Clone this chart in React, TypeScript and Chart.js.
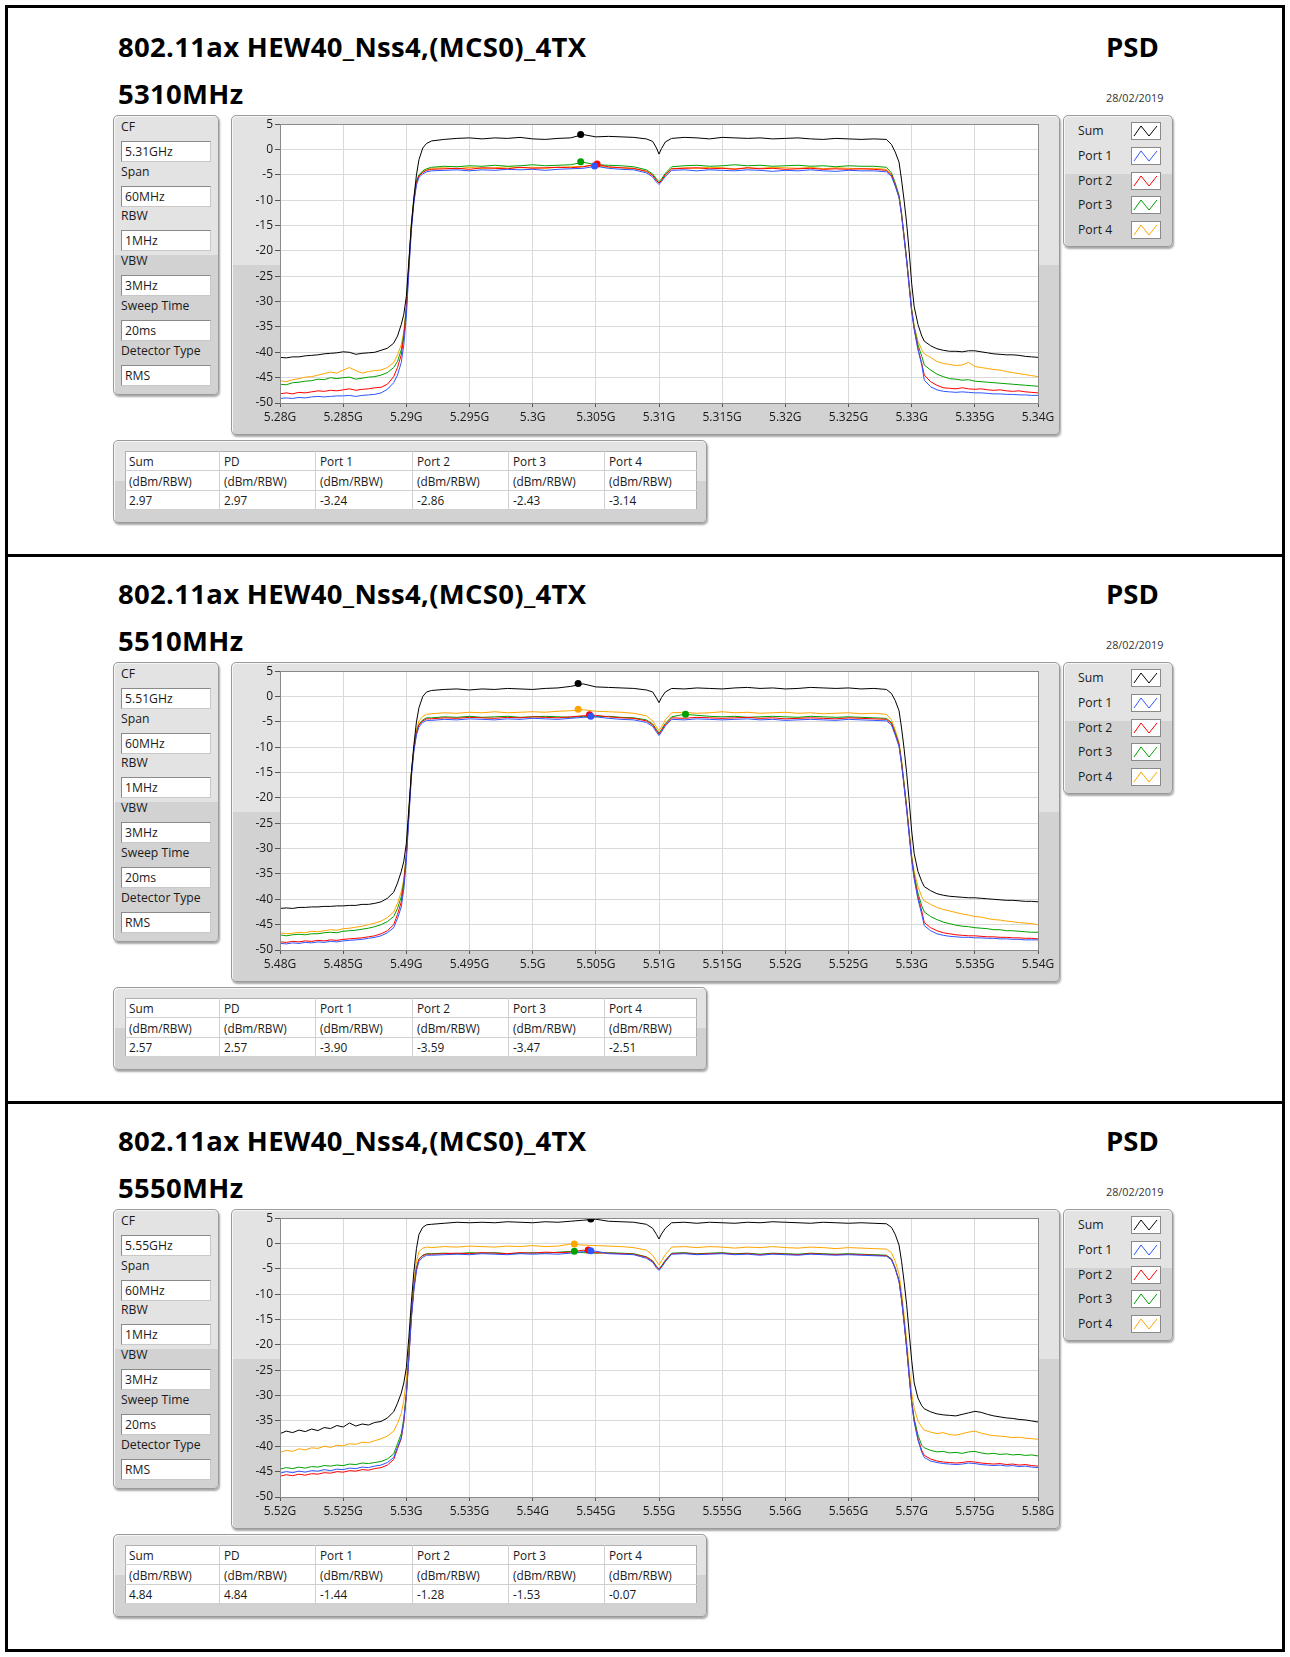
import React, { useEffect, useRef } from "react";
import { Chart, registerables } from "chart.js";
Chart.register(...registerables);

// ---------------- DATA ----------------
// frequency offsets (MHz) from the start of each 60 MHz span
const FREQ_OFFSETS = [
  0, 0.5, 1, 1.5, 2, 2.5, 3, 3.5, 4, 4.5, 5, 5.5, 6, 6.5, 7, 7.5, 8, 8.5, 9,
  9.3, 9.6, 9.8, 10, 10.2, 10.4, 10.6, 10.8, 11, 11.3, 11.6,
  12, 13, 14, 15, 16, 17, 18, 19, 20, 21, 22, 23, 24, 25, 26, 27, 28, 29,
  29.5, 29.8, 30, 30.2, 30.5,
  31, 32, 33, 34, 35, 36, 37, 38, 39, 40, 41, 42, 43, 44, 45, 46, 47, 48,
  48.4, 48.7, 49, 49.2, 49.4, 49.6, 49.8, 50, 50.2, 50.5, 50.8,
  51, 51.5, 52, 52.5, 53, 53.5, 54, 54.5, 55, 55.5, 56, 56.5, 57, 57.5, 58, 58.5, 59, 59.5, 60,
];

const SERIES_NAMES = ["Sum", "Port 1", "Port 2", "Port 3", "Port 4"];
const SERIES_COLORS = ["#000000", "#2f55ff", "#ff0000", "#00a000", "#ffa500"];
const TABLE_HEADERS = ["Sum", "PD", "Port 1", "Port 2", "Port 3", "Port 4"];
const TABLE_UNITS = ["(dBm/RBW)", "(dBm/RBW)", "(dBm/RBW)", "(dBm/RBW)", "(dBm/RBW)", "(dBm/RBW)"];
const Y_MIN = -50;
const Y_MAX = 5;

// ---- Chart 1 : 5310 MHz ----
const C1_SUM = [
  -41.0, -41.1, -40.9, -40.9, -40.7, -40.6, -40.5, -40.3, -40.2, -40.1, -39.9, -40.0, -40.4, -40.2, -40.1, -40.0, -39.6, -39.2, -38.2,
  -36.8, -34.5, -32.5, -29.0, -22.0, -15.0, -9.5, -5.0, -2.0, 0.3, 1.2,
  1.7, 2.0, 2.2, 2.3, 2.1, 2.3, 2.2, 2.4, 2.1, 2.0, 2.2, 2.3, 2.95, 2.5, 2.6, 2.5, 2.4, 2.1,
  1.6, 0.3, -0.9, 0.2, 1.5,
  2.2, 2.4, 2.3, 2.1, 2.4, 2.3, 2.2, 2.3, 2.1, 2.2, 2.3, 2.1, 2.0, 2.2, 2.1, 2.0, 2.1, 2.0,
  1.0, -0.5, -2.5, -6.0, -10.0, -14.5, -20.0, -26.4, -31.0, -34.5, -36.8,
  -37.8, -38.7, -39.3, -39.6, -39.8, -39.8, -39.9, -39.7, -39.7, -39.9, -40.1, -40.3, -40.4, -40.5, -40.5, -40.6, -40.8, -40.9, -41.0,
];
const C1_P1 = [
  -49.1, -49.0, -49.1, -48.9, -49.0, -48.8, -48.7, -48.8, -48.7, -48.6, -48.6, -48.5, -48.7, -48.5, -48.4, -48.3, -48.0, -47.3, -46.0,
  -44.5, -42.0, -38.5, -33.0, -24.0, -16.0, -10.5, -7.0, -5.5, -4.8, -4.4,
  -4.2, -4.1, -4.0, -4.2, -4.0, -4.1, -3.9, -4.0, -3.9, -4.1, -3.9, -3.8, -3.7, -3.3, -3.7, -3.9, -4.0, -4.6,
  -5.4, -6.4, -6.9, -6.3, -5.3,
  -4.1, -4.0, -4.2, -4.0, -4.1, -4.2, -4.0, -4.1, -4.3, -4.1, -4.2, -4.0, -4.2, -4.3, -4.1, -4.2, -4.2, -4.4,
  -5.3, -7.2, -9.5, -13.0, -17.5, -22.0, -27.0, -32.0, -35.5, -39.5, -42.5,
  -45.5, -46.8, -47.4, -47.7, -47.8, -47.9, -47.8, -47.9, -48.0, -48.0, -48.1, -48.2, -48.2, -48.3, -48.3, -48.4, -48.4, -48.5, -48.5,
];
const C1_P2 = [
  -48.2, -48.0, -48.2, -47.9, -48.0, -47.8, -47.6, -47.7, -47.5, -47.6, -47.4, -47.2, -47.5, -47.3, -47.2, -47.0, -46.9, -46.3, -44.8,
  -43.0, -40.5, -37.0, -31.5, -23.0, -15.0, -10.0, -6.5, -5.2, -4.5, -4.1,
  -3.9, -3.8, -3.7, -3.9, -3.6, -3.7, -3.8, -3.5, -3.7, -3.6, -3.5, -3.6, -3.4, -2.9, -3.4, -3.6, -3.7, -4.3,
  -5.1, -6.1, -6.6, -6.1, -5.0,
  -3.8, -3.7, -3.6, -3.8, -3.7, -3.9, -3.6, -3.8, -3.7, -3.9, -3.8, -3.7, -3.9, -3.8, -3.9, -3.8, -3.9, -4.1,
  -5.0, -7.0, -9.3, -12.8, -17.2, -21.8, -26.8, -31.8, -35.3, -39.3, -42.2,
  -44.5, -45.8, -46.5, -47.0, -47.1, -47.2, -47.0, -47.2, -47.3, -47.2, -47.4, -47.5, -47.4, -47.6, -47.7, -47.6, -47.8, -47.9, -48.0,
];
const C1_P3 = [
  -46.3, -46.4, -46.0, -45.9, -45.7, -45.6, -45.3, -45.4, -45.0, -45.2, -45.0, -44.9, -45.3, -45.1, -44.9, -44.8, -44.5, -44.0, -43.0,
  -41.8, -39.5, -36.5, -31.0, -22.5, -14.5, -9.5, -6.2, -5.0, -4.2, -3.8,
  -3.5, -3.3, -3.4, -3.2, -3.3, -3.1, -3.3, -3.2, -3.0, -3.2, -3.1, -3.0, -2.5, -3.0, -3.1, -3.2, -3.4, -4.0,
  -4.8, -5.8, -6.3, -5.8, -4.7,
  -3.4, -3.2, -3.1, -3.3, -3.2, -3.0, -3.2, -3.1, -3.3, -3.2, -3.1, -3.3, -3.2, -3.4, -3.2, -3.3, -3.3, -3.5,
  -4.6, -6.6, -9.0, -12.5, -17.0, -21.5, -26.5, -31.5, -35.0, -38.5, -40.8,
  -42.5, -43.5, -44.3, -44.8, -45.2, -45.3, -45.5, -45.4, -45.7, -45.8, -45.9, -46.0, -46.1, -46.2, -46.3, -46.4, -46.5, -46.6, -46.7,
];
const C1_P4 = [
  -45.6, -45.8, -45.4, -45.2, -44.9, -44.8, -44.5, -44.2, -43.9, -44.1, -43.5, -43.0, -43.6, -44.1, -43.8, -43.6, -43.5, -43.0, -42.0,
  -40.5, -38.5, -36.0, -31.0, -23.0, -15.0, -10.0, -6.5, -5.2, -4.4, -4.0,
  -3.7, -3.6, -3.8, -3.5, -3.7, -3.6, -3.4, -3.6, -3.5, -3.7, -3.5, -3.4, -3.3, -3.2, -3.5, -3.6, -3.8, -4.3,
  -5.0, -6.0, -6.5, -6.0, -4.9,
  -3.8, -3.6, -3.7, -3.5, -3.6, -3.8, -3.6, -3.7, -3.5, -3.6, -3.7, -3.5, -3.8, -3.6, -3.7, -3.8, -3.7, -3.9,
  -5.0, -7.0, -9.3, -12.7, -17.2, -21.8, -26.8, -31.5, -34.8, -37.8, -39.5,
  -40.3, -41.0, -41.8, -42.2, -42.4, -42.6, -42.5, -42.0, -42.8, -43.0, -43.2, -43.4, -43.5, -43.8, -44.0, -44.2, -44.4, -44.6, -44.8,
];
const C1_MARK_X = [23.8, 24.9, 25.1, 23.8, 24.9];
const C1_MARK_Y = [2.97, -3.24, -2.86, -2.43, -3.14];
const C1_TABLE = ["2.97", "2.97", "-3.24", "-2.86", "-2.43", "-3.14"];

// ---- Chart 2 : 5510 MHz ----
const C2_SUM = [
  -41.8, -41.7, -41.8, -41.6, -41.6, -41.5, -41.5, -41.4, -41.4, -41.3, -41.3, -41.2, -41.2, -41.0, -41.0, -40.8, -40.5, -39.8, -38.6,
  -36.8, -34.5, -32.5, -29.0, -22.0, -15.0, -9.5, -5.0, -2.2, 0.0, 0.9,
  1.2, 1.4, 1.5, 1.3, 1.5, 1.4, 1.6, 1.5, 1.4, 1.6, 1.7, 2.0, 2.5, 1.9, 1.8, 1.7, 1.6, 1.3,
  0.9, -0.3, -1.2, -0.2, 0.9,
  1.6, 1.5, 1.7, 1.6, 1.5, 1.7, 1.8, 1.6, 1.7, 1.5, 1.6, 1.8, 1.7, 1.6, 1.7, 1.5, 1.6, 1.4,
  0.6, -0.8, -2.8, -6.2, -10.3, -15.0, -20.5, -26.5, -31.0, -34.5, -36.5,
  -37.5, -38.3, -38.9, -39.2, -39.4, -39.5, -39.6, -39.7, -39.7, -39.8, -39.9, -40.0, -40.1, -40.2, -40.2, -40.3, -40.4, -40.4, -40.5,
];
const C2_P1 = [
  -48.7, -48.8, -48.6, -48.7, -48.5, -48.6, -48.4, -48.5, -48.3, -48.4, -48.2, -48.1, -48.0, -47.9, -47.7, -47.5, -47.2, -46.6, -45.6,
  -43.8, -41.5, -38.0, -32.5, -24.0, -16.0, -10.8, -7.6, -6.0, -5.1, -4.7,
  -4.7, -4.5, -4.6, -4.4, -4.5, -4.6, -4.4, -4.5, -4.3, -4.4, -4.5, -4.3, -4.1, -4.0, -4.3, -4.5, -4.6, -5.1,
  -5.9, -7.0, -7.7, -7.0, -5.8,
  -4.5, -4.6, -4.4, -4.5, -4.6, -4.5, -4.4, -4.6, -4.5, -4.7, -4.6, -4.5, -4.6, -4.7, -4.5, -4.6, -4.7, -4.8,
  -5.6, -7.6, -9.9, -13.4, -17.8, -22.3, -27.3, -32.3, -36.0, -40.0, -43.0,
  -45.2, -46.2, -46.8, -47.1, -47.3, -47.4, -47.5, -47.5, -47.6, -47.6, -47.7, -47.7, -47.8, -47.8, -47.9, -47.9, -48.0, -48.0, -48.0,
];
const C2_P2 = [
  -48.4, -48.5, -48.3, -48.4, -48.2, -48.3, -48.1, -48.2, -48.0, -48.1, -47.9, -47.8, -47.7, -47.6, -47.4, -47.2, -46.8, -46.2, -45.0,
  -43.0, -40.5, -37.0, -31.5, -23.2, -15.3, -10.3, -7.2, -5.6, -4.8, -4.4,
  -4.4, -4.2, -4.3, -4.1, -4.2, -4.3, -4.1, -4.2, -4.0, -4.1, -4.2, -4.0, -3.8, -3.7, -4.0, -4.2, -4.3, -4.8,
  -5.6, -6.7, -7.4, -6.7, -5.5,
  -4.2, -4.3, -4.1, -4.2, -4.3, -4.2, -4.1, -4.3, -4.2, -4.4, -4.3, -4.2, -4.3, -4.4, -4.2, -4.3, -4.4, -4.5,
  -5.3, -7.3, -9.6, -13.1, -17.5, -22.0, -27.0, -32.0, -35.6, -39.5, -42.3,
  -44.6, -45.6, -46.2, -46.6, -46.8, -47.0, -47.1, -47.2, -47.2, -47.3, -47.4, -47.4, -47.5, -47.5, -47.6, -47.6, -47.7, -47.7, -47.8,
];
const C2_P3 = [
  -47.0, -47.2, -47.0, -46.9, -47.0, -46.8, -46.8, -46.6, -46.5, -46.6, -46.3, -46.2, -46.1, -45.9, -45.7, -45.4, -45.0, -44.4, -43.4,
  -41.8, -39.5, -36.5, -31.2, -23.0, -15.0, -10.2, -7.0, -5.5, -4.6, -4.2,
  -4.2, -4.0, -4.1, -3.9, -4.1, -4.0, -3.9, -4.1, -4.0, -3.9, -4.0, -4.1, -3.9, -4.0, -3.9, -4.1, -4.2, -4.6,
  -5.4, -6.5, -7.2, -6.5, -5.3,
  -4.0, -3.5, -3.7, -3.9, -4.0, -3.9, -4.1, -4.0, -3.9, -4.0, -4.1, -3.9, -4.0, -4.1, -4.0, -4.1, -4.2, -4.3,
  -5.1, -7.1, -9.4, -12.9, -17.3, -21.8, -26.8, -31.7, -35.2, -38.8, -41.3,
  -42.5, -43.4, -44.0, -44.5, -44.8, -45.1, -45.3, -45.4, -45.6, -45.7, -45.8, -46.0, -46.0, -46.2, -46.2, -46.3, -46.4, -46.5, -46.5,
];
const C2_P4 = [
  -46.6, -46.8, -46.7, -46.5, -46.6, -46.3, -46.4, -46.2, -46.0, -46.1, -45.8, -45.7, -45.5, -45.3, -45.0, -44.7, -44.3, -43.6, -42.5,
  -40.8, -38.5, -36.0, -31.0, -23.0, -15.0, -10.0, -6.5, -4.8, -3.9, -3.5,
  -3.4, -3.2, -3.3, -3.1, -3.2, -3.0, -3.2, -3.1, -3.0, -3.1, -2.9, -2.8, -2.6, -2.9, -3.0, -3.1, -3.3, -3.8,
  -4.8, -6.0, -6.7, -6.0, -4.6,
  -3.2, -3.1, -3.3, -3.2, -3.0, -3.2, -3.1, -3.3, -3.2, -3.1, -3.3, -3.2, -3.4, -3.3, -3.2, -3.4, -3.3, -3.5,
  -4.6, -6.6, -9.0, -12.5, -17.0, -21.5, -26.5, -31.3, -34.5, -37.5, -39.5,
  -40.3, -41.0, -41.6, -42.0, -42.3, -42.6, -42.9, -43.1, -43.4, -43.5, -43.8, -44.0, -44.1, -44.3, -44.4, -44.6, -44.7, -44.8, -45.0,
];
const C2_MARK_X = [23.6, 24.6, 24.5, 32.1, 23.6];
const C2_MARK_Y = [2.57, -3.9, -3.59, -3.47, -2.51];
const C2_TABLE = ["2.57", "2.57", "-3.90", "-3.59", "-3.47", "-2.51"];

// ---- Chart 3 : 5550 MHz ----
const C3_SUM = [
  -37.5, -37.0, -37.3, -36.8, -37.1, -36.6, -36.9, -36.3, -36.5, -35.9, -36.2, -35.4, -36.0, -35.6, -35.8, -35.3, -35.1, -34.4, -33.2,
  -31.5, -29.5, -27.5, -24.5, -18.5, -11.5, -5.5, -1.0, 1.8, 3.2, 3.7,
  3.8, 4.0, 4.2, 4.1, 4.2, 4.1, 4.3, 4.2, 4.1, 4.3, 4.2, 4.4, 4.6, 4.8, 4.4, 4.3, 4.2, 3.8,
  3.0, 1.8, 0.9, 1.9, 3.0,
  4.1, 4.2, 4.0, 4.2, 4.1, 4.0, 4.2, 4.1, 4.3, 4.2, 4.1, 4.0, 4.2, 4.1, 4.0, 4.1, 4.0, 3.9,
  3.2, 1.8, -0.3, -3.5, -7.5, -12.0, -17.5, -23.0, -27.5, -30.5, -32.0,
  -32.6, -33.2, -33.6, -33.8, -33.9, -34.0, -33.7, -33.4, -33.1, -33.3, -33.7, -34.0, -34.2, -34.4, -34.5, -34.7, -34.8, -35.0, -35.2,
];
const C3_P1 = [
  -45.3, -45.0, -45.2, -44.9, -45.1, -44.8, -44.9, -44.6, -44.8, -44.5, -44.6, -44.3, -44.4, -44.1, -44.2, -43.9, -43.7, -43.2, -42.2,
  -40.2, -38.2, -35.0, -30.0, -22.6, -14.8, -9.2, -5.4, -3.5, -2.7, -2.3,
  -2.3, -2.2, -2.1, -2.2, -2.0, -2.1, -2.2, -2.0, -2.1, -2.0, -2.1, -1.9, -1.6, -1.5, -2.0, -2.1, -2.2, -2.9,
  -3.7, -4.8, -5.3, -4.7, -3.6,
  -2.1, -2.0, -2.2, -2.1, -2.0, -2.2, -2.1, -2.3, -2.1, -2.2, -2.3, -2.1, -2.2, -2.3, -2.2, -2.3, -2.4, -2.5,
  -3.2, -5.0, -7.5, -11.1, -15.6, -20.6, -26.2, -31.5, -35.2, -38.8, -41.2,
  -42.2, -42.9, -43.2, -43.4, -43.5, -43.6, -43.5, -43.3, -43.4, -43.6, -43.7, -43.8, -43.7, -43.9, -43.8, -44.0, -43.9, -44.1, -44.2,
];
const C3_P2 = [
  -45.9, -45.6, -45.8, -45.5, -45.7, -45.4, -45.5, -45.2, -45.3, -45.0, -45.1, -44.8, -44.9, -44.6, -44.7, -44.4, -44.2, -43.7, -42.6,
  -40.5, -38.5, -35.3, -30.0, -22.5, -14.5, -8.8, -5.0, -3.1, -2.4, -2.1,
  -2.1, -2.0, -1.9, -2.0, -1.8, -1.9, -2.0, -1.8, -1.9, -1.7, -1.8, -1.7, -1.3, -1.8, -1.9, -2.0, -2.1, -2.7,
  -3.5, -4.6, -5.1, -4.5, -3.4,
  -2.0, -1.9, -2.1, -2.0, -1.9, -2.1, -2.0, -2.2, -2.0, -2.1, -2.2, -2.0, -2.1, -2.2, -2.1, -2.2, -2.3, -2.4,
  -3.1, -4.9, -7.4, -11.0, -15.5, -20.5, -26.0, -31.3, -35.0, -38.5, -40.8,
  -41.8, -42.5, -42.9, -43.1, -43.2, -43.3, -43.2, -43.0, -43.1, -43.3, -43.4, -43.5, -43.4, -43.6, -43.5, -43.7, -43.6, -43.8, -43.9,
];
const C3_P3 = [
  -44.5, -44.2, -44.4, -44.1, -44.3, -44.0, -44.1, -43.8, -43.9, -43.7, -43.8, -43.5, -43.6, -43.3, -43.4, -43.2, -43.0, -42.5, -41.5,
  -39.5, -37.5, -34.5, -29.5, -22.0, -14.0, -8.5, -4.8, -3.0, -2.3, -2.0,
  -2.0, -1.9, -2.0, -1.8, -1.9, -1.8, -2.0, -1.9, -1.8, -1.9, -1.7, -1.55, -1.8, -1.9, -1.8, -1.9, -2.0, -2.6,
  -3.4, -4.5, -5.0, -4.4, -3.3,
  -1.9, -1.8, -2.0, -1.9, -1.8, -2.0, -1.9, -2.1, -1.9, -2.0, -2.1, -1.9, -2.0, -2.1, -2.0, -2.1, -2.2, -2.3,
  -3.0, -4.8, -7.3, -10.8, -15.3, -20.3, -25.8, -31.0, -34.5, -37.8, -39.8,
  -40.3, -40.8, -41.1, -41.0, -41.3, -41.2, -41.4, -41.1, -41.0, -41.3, -41.5, -41.4, -41.6, -41.5, -41.7, -41.6, -41.8, -41.7, -41.9,
];
const C3_P4 = [
  -41.2, -40.8, -41.0, -40.5, -40.7, -40.3, -40.4, -40.0, -40.2, -39.8, -39.9, -39.5, -39.6, -39.2, -39.3, -38.9, -38.5, -38.0, -37.0,
  -35.5, -33.5, -31.0, -27.0, -20.5, -13.0, -7.5, -3.5, -1.6, -0.9, -0.7,
  -0.8, -0.6, -0.7, -0.5, -0.6, -0.7, -0.5, -0.6, -0.4, -0.6, -0.5, -0.1, -0.3, -0.4, -0.5, -0.6, -0.8, -1.3,
  -2.3, -3.5, -4.2, -3.4, -2.2,
  -0.7, -0.6, -0.8, -0.6, -0.7, -0.9, -0.7, -0.8, -0.6, -0.8, -0.9, -0.7, -0.8, -1.0, -0.8, -0.9, -1.0, -1.1,
  -1.8, -3.5, -6.0, -9.5, -14.0, -19.0, -24.5, -29.5, -32.5, -35.0, -36.2,
  -36.8, -37.2, -37.5, -37.3, -37.7, -37.8, -37.5, -37.2, -37.0, -37.4, -37.7, -37.9, -38.0, -38.1, -38.3, -38.2, -38.4, -38.5, -38.6,
];
const C3_MARK_X = [24.6, 24.6, 24.4, 23.3, 23.3];
const C3_MARK_Y = [4.84, -1.44, -1.28, -1.53, -0.07];
const C3_TABLE = ["4.84", "4.84", "-1.44", "-1.28", "-1.53", "-0.07"];

const START_MHZ = [5280, 5480, 5520];
const FREQ_LABELS = ["5310MHz", "5510MHz", "5550MHz"];
const CF_LABELS = ["5.31GHz", "5.51GHz", "5.55GHz"];
const SETTING_NAMES = ["CF", "Span", "RBW", "VBW", "Sweep Time", "Detector Type"];
const SETTING_COMMON = ["60MHz", "1MHz", "3MHz", "20ms", "RMS"];
const TITLE = "802.11ax HEW40_Nss4,(MCS0)_4TX";
const DATE = "28/02/2019";

const SECTIONS = [
  { traces: [C1_SUM, C1_P1, C1_P2, C1_P3, C1_P4], markX: C1_MARK_X, markY: C1_MARK_Y, table: C1_TABLE },
  { traces: [C2_SUM, C2_P1, C2_P2, C2_P3, C2_P4], markX: C2_MARK_X, markY: C2_MARK_Y, table: C2_TABLE },
  { traces: [C3_SUM, C3_P1, C3_P2, C3_P3, C3_P4], markX: C3_MARK_X, markY: C3_MARK_Y, table: C3_TABLE },
];

// ---------------- LAYOUT ----------------
const SECTION_DY = 547;
const FONT = "'Open Sans', 'DejaVu Sans', sans-serif";
const SMALL = 12.2;
// marker draw order (last = on top): Port 4, Port 3, Port 2, Sum, Port 1
const MARK_ORDER = [4, 3, 2, 0, 1];

const fmtG = (mhz: number) => parseFloat((mhz / 1000).toFixed(4)).toString() + "G";

const plotFrame = {
  id: "plotFrame",
  beforeDraw(chart: any) {
    const { ctx, chartArea: a } = chart;
    ctx.save();
    ctx.fillStyle = "#ffffff";
    ctx.fillRect(a.left, a.top, a.right - a.left, a.bottom - a.top);
    ctx.restore();
  },
  afterDraw(chart: any) {
    const { ctx, chartArea: a } = chart;
    ctx.save();
    ctx.strokeStyle = "#8a8a8a";
    ctx.lineWidth = 1;
    ctx.strokeRect(Math.round(a.left) + 0.5, Math.round(a.top) + 0.5, Math.round(a.right - a.left), Math.round(a.bottom - a.top));
    ctx.restore();
  },
};

function panelStyle(x: number, y: number, w: number, h: number, split: number): React.CSSProperties {
  return {
    position: "absolute",
    left: x,
    top: y,
    width: w,
    height: h,
    boxSizing: "border-box",
    border: "1px solid #9a9a9a",
    borderRadius: 5,
    background: `linear-gradient(#e3e3e3 0%, #e3e3e3 ${split}%, #d2d2d2 ${split}%, #d2d2d2 100%)`,
    boxShadow: "1px 2px 2px rgba(0,0,0,0.35), inset 1px 1px 0 #f6f6f6",
  };
}

function SpectrumChart({ dy, startMHz, traces, markX, markY }: any) {
  const ref = useRef<HTMLCanvasElement>(null);
  useEffect(() => {
    const canvas = ref.current;
    if (!canvas) return;
    const datasets: any[] = [];
    datasets.push({
      label: "markers",
      data: MARK_ORDER.map((i) => ({ x: markX[i], y: markY[i] })),
      showLine: false,
      pointRadius: 3.5,
      pointBackgroundColor: MARK_ORDER.map((i) => SERIES_COLORS[i]),
      pointBorderColor: MARK_ORDER.map((i) => SERIES_COLORS[i]),
      pointBorderWidth: 0,
      order: 0,
    });
    traces.forEach((vals: number[], i: number) => {
      datasets.push({
        label: SERIES_NAMES[i],
        data: FREQ_OFFSETS.map((x, j) => ({ x, y: vals[j] })),
        borderColor: SERIES_COLORS[i],
        backgroundColor: SERIES_COLORS[i],
        borderWidth: 1,
        pointRadius: 0,
        tension: 0,
        order: i + 1,
      });
    });
    const tickFont = { family: FONT, size: 12 };
    const chart = new Chart(canvas, {
      type: "line",
      data: { datasets },
      options: {
        animation: false,
        responsive: false,
        maintainAspectRatio: false,
        layout: { padding: { top: 8, right: 22, left: 0, bottom: 0 } },
        plugins: { legend: { display: false }, tooltip: { enabled: false } },
        scales: {
          x: {
            type: "linear",
            min: 0,
            max: 60,
            afterFit: (s: any) => {
              s.height = 32;
            },
            ticks: {
              stepSize: 5,
              autoSkip: false,
              maxRotation: 0,
              padding: 3,
              color: "#1a1a1a",
              font: tickFont,
              callback: (v: any) => fmtG(startMHz + Number(v)),
            },
            grid: { color: "#dadada", tickColor: "#555", tickLength: 4 },
            border: { color: "#8a8a8a" },
          },
          y: {
            min: Y_MIN,
            max: Y_MAX,
            afterFit: (s: any) => {
              s.width = 49;
            },
            ticks: { stepSize: 5, padding: 2, color: "#1a1a1a", font: tickFont },
            grid: { color: "#dadada", tickColor: "#555", tickLength: 5 },
            border: { color: "#8a8a8a" },
          },
        },
      } as any,
      plugins: [plotFrame],
    });
    return () => chart.destroy();
  }, []);
  return (
    <canvas
      ref={ref}
      width={829}
      height={320}
      style={{ position: "absolute", left: 231, top: 115 + dy, width: 829, height: 320 }}
    />
  );
}

function Section({ idx }: { idx: number }) {
  const dy = idx * SECTION_DY;
  const sec = SECTIONS[idx];
  const boxTops = [141, 186, 230, 275, 320, 365];
  const values = [CF_LABELS[idx], ...SETTING_COMMON];
  const colX = [125, 220, 316, 413, 509, 605, 697];
  const rowY = [451, 471, 491, 510];
  const rows = [TABLE_HEADERS, TABLE_UNITS, sec.table];
  const small: React.CSSProperties = { fontFamily: FONT, fontSize: SMALL, color: "#1a1a1a", whiteSpace: "nowrap" };
  const big: React.CSSProperties = { position: "absolute", fontFamily: FONT, fontWeight: 700, fontSize: 27.5, lineHeight: "27.5px", letterSpacing: 0.3, color: "#000", whiteSpace: "nowrap" };
  return (
    <>
      <div style={{ ...big, left: 118, top: 33 + dy }}>{TITLE}</div>
      <div style={{ ...big, left: 118, top: 80 + dy }}>{FREQ_LABELS[idx]}</div>
      <div style={{ ...big, left: 1106, top: 33 + dy, letterSpacing: 0 }}>PSD</div>
      <div style={{ ...small, position: "absolute", left: 1106, top: 90 + dy, fontSize: 10.8, lineHeight: "16px", color: "#333" }}>{DATE}</div>

      {/* settings panel */}
      <div style={panelStyle(113, 115 + dy, 106, 280, 50)} />
      {SETTING_NAMES.map((n, i) => (
        <React.Fragment key={n}>
          <div style={{ ...small, position: "absolute", left: 121, top: boxTops[i] - 23 + dy, height: 18, lineHeight: "18px" }}>{n}</div>
          <div style={{ ...small, position: "absolute", left: 121, top: boxTops[i] + dy, width: 90, height: 21, boxSizing: "border-box", border: "1px solid #8a8a8a", borderRightColor: "#c8c8c8", borderBottomColor: "#c8c8c8", background: "#fff", paddingLeft: 3, lineHeight: "19px" }}>{values[i]}</div>
        </React.Fragment>
      ))}

      {/* chart panel */}
      <div style={panelStyle(231, 115 + dy, 829, 320, 47)} />
      <SpectrumChart dy={dy} startMHz={START_MHZ[idx]} traces={sec.traces} markX={sec.markX} markY={sec.markY} />

      {/* legend panel */}
      <div style={panelStyle(1063, 115 + dy, 110, 132, 45)} />
      {SERIES_NAMES.map((n, i) => {
        const cy = 131 + i * 24.8 + dy;
        return (
          <React.Fragment key={n}>
            <div style={{ ...small, position: "absolute", left: 1078, top: cy - 9, height: 18, lineHeight: "18px" }}>{n}</div>
            <svg width={30} height={18} style={{ position: "absolute", left: 1131, top: cy - 9 }}>
              <rect x={0.5} y={0.5} width={29} height={17} fill="#fff" stroke="#8a8a8a" />
              <polyline points="3,14 10,4 18,14 26,4" fill="none" stroke={SERIES_COLORS[i]} strokeWidth={1} />
            </svg>
          </React.Fragment>
        );
      })}

      {/* table panel */}
      <div style={panelStyle(113, 440 + dy, 594, 83, 50)} />
      <div style={{ position: "absolute", left: colX[0], top: rowY[0] + dy, width: colX[6] - colX[0], height: rowY[3] - rowY[0], background: "#fff", boxSizing: "border-box", border: "1px solid #b0b0b0" }} />
      {rows.map((r, ri) =>
        r.map((t, ci) => (
          <div
            key={ri + "-" + ci}
            style={{
              ...small,
              fontSize: 11.8,
              position: "absolute",
              left: colX[ci],
              top: rowY[ri] + dy,
              width: colX[ci + 1] - colX[ci],
              height: rowY[ri + 1] - rowY[ri],
              boxSizing: "border-box",
              borderRight: ci < 5 ? "1px solid #d0d0d0" : "none",
              borderBottom: "1px solid #d0d0d0",
              paddingLeft: 4,
              lineHeight: rowY[ri + 1] - rowY[ri] + "px",
            }}
          >
            {t}
          </div>
        ))
      )}
    </>
  );
}

export default function App() {
  return (
    <div style={{ position: "absolute", left: 0, top: 0, width: 1290, height: 1657, background: "#fff", overflow: "hidden" }}>
      <div style={{ position: "absolute", left: 5, top: 5, width: 1280, height: 1647, boxSizing: "border-box", border: "3px solid #000" }} />
      <div style={{ position: "absolute", left: 5, top: 554, width: 1280, height: 3, background: "#000" }} />
      <div style={{ position: "absolute", left: 5, top: 1101, width: 1280, height: 3, background: "#000" }} />
      {SECTIONS.map((_, i) => (
        <Section key={i} idx={i} />
      ))}
    </div>
  );
}
